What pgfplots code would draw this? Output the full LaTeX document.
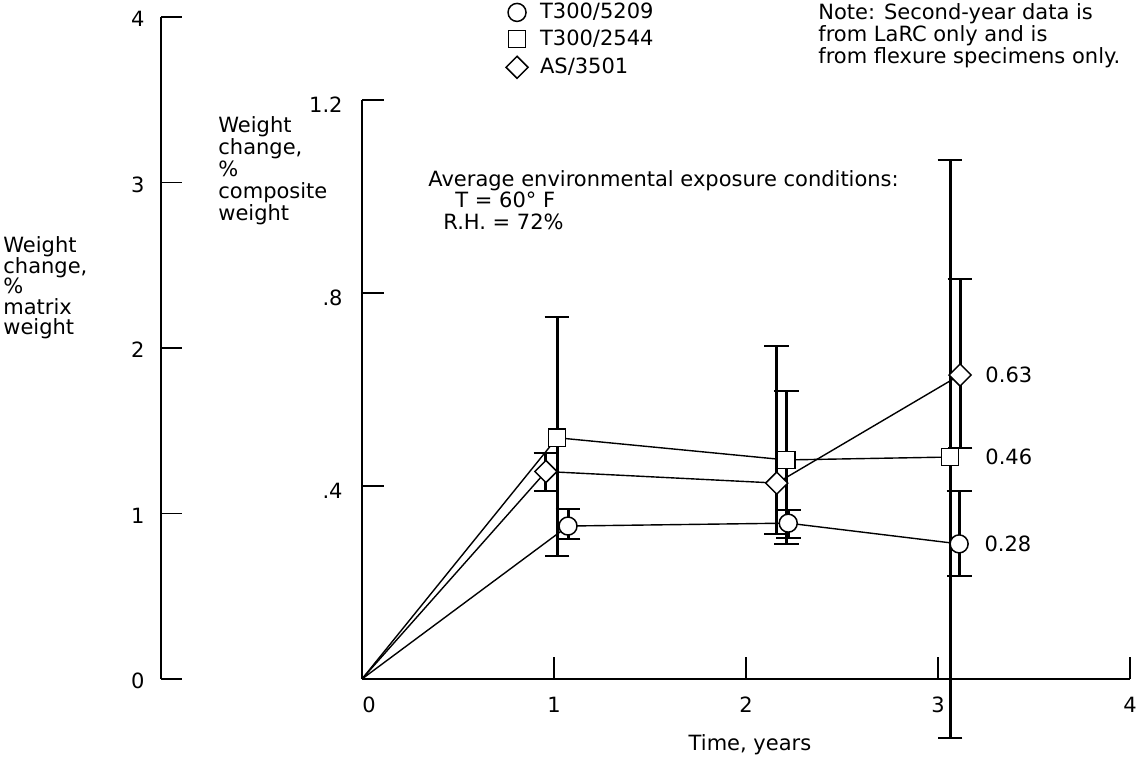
\documentclass[border=0pt]{standalone}
\usepackage{fontspec}
\setmainfont{DejaVu Sans}
\usepackage{pgfplots}
\pgfplotsset{compat=1.18}

\newcommand\lbl{\fontsize{10.5}{12.6}\selectfont}

\begin{document}
\begin{tikzpicture}
\path[use as bounding box] (0,0) rectangle (568pt,379.5pt);

% secondary scale: % matrix weight
\begin{axis}[
  at={(80.5pt,40pt)}, anchor=south west,
  scale only axis, width=20pt, height=331pt,
  xmin=0, xmax=1, ymin=0, ymax=4,
  axis x line=none, axis y line*=left,
  axis line style={line width=1.4pt,-},
  ytick={0,1,2,3,4},
  tick align=inside, major tick length=10.5pt,
  tick style={line width=0.8pt, black},
  /pgf/number format/assume math mode=true,
  yticklabel style={anchor=east, inner sep=0pt, xshift=-8pt, yshift=-1pt, font=\lbl},
]
\end{axis}

% main scale: % composite weight vs time
\begin{axis}[
  at={(181pt,40pt)}, anchor=south west,
  scale only axis, width=384pt, height=289.5pt,
  xmin=0, xmax=4, ymin=0, ymax=1.2,
  axis x line*=bottom, axis y line*=left,
  axis line style={line width=1.3pt,-},
  xtick={0,1,2,3,4}, xticklabels={{\kern7pt 0},1,2,3,4},
  ytick={0.4,0.8,1.2}, yticklabels={.4,.8,1.2},
  tick align=inside, major tick length=11pt,
  tick style={line width=0.8pt, black},
  /pgf/number format/assume math mode=true,
  xticklabel style={anchor=center, yshift=-13pt, font=\lbl},
  yticklabel style={anchor=east, inner sep=0pt, xshift=-9.5pt, yshift=-2.5pt, font=\lbl},
  clip=false,
  legend style={draw=none, fill=none, font=\lbl,
    at={(axis description cs:0.187,1.168)}, anchor=north west,
    inner sep=0pt, row sep=4pt,
    nodes={inner sep=0pt},
    /tikz/every odd column/.append style={column sep=6pt}},
  legend cell align=left,
  legend image code/.code={\draw[#1] plot coordinates {(0pt,0pt)};},
  errb/.style={forget plot, draw=none, mark=none,
    error bars/.cd, y dir=both, y explicit,
    error bar style={draw=black, line width=1.5pt},
    error mark options={draw=black, rotate=90, mark size=6.2pt, line width=1pt}},
  mk/.style={only marks, mark options={fill=white, draw=black, line width=0.75pt, #1}},
  mk/.default={},
]

% connecting lines from the origin
\addplot[black, line width=0.7pt, forget plot] coordinates {(0,0) (1.073,0.317) (2.22,0.323) (3.11,0.28)};
\addplot[black, line width=0.7pt, forget plot] coordinates {(0,0) (1.016,0.50) (2.21,0.454) (3.0625,0.46)};
\addplot[black, line width=0.7pt, forget plot] coordinates {(0,0) (0.958,0.43) (2.16,0.406) (3.115,0.63)};

% scatter bands
\addplot[errb] coordinates {
  (1.073,0.317) += (0,0.035) -= (0,0.027)
  (2.22,0.323)  += (0,0.027) -= (0,0.030)
  (3.11,0.28)   += (0,0.110) -= (0,0.067)};
\addplot[errb] coordinates {
  (1.016,0.50)  += (0,0.250) -= (0,0.245)
  (2.21,0.454)  += (0,0.143) -= (0,0.174)
  (3.0625,0.46) += (0,0.616) -= (0,0.582)};
\addplot[errb] coordinates {
  (0.958,0.43)  += (0,0.038) -= (0,0.040)
  (2.16,0.406)  += (0,0.284) -= (0,0.106)
  (3.115,0.63)  += (0,0.200) -= (0,0.151)};

% mean values
\addplot[mk, mark=*, mark size=4.5pt] coordinates {(1.073,0.317) (2.22,0.323) (3.11,0.28)};
\addlegendentry{T300/5209}
\addplot[mk, mark=square*, mark size=4.3pt] coordinates {(1.016,0.50) (2.21,0.454) (3.0625,0.46)};
\addlegendentry{T300/2544}
\addplot[mk={rotate=45}, mark=square*, mark size=3.9pt] coordinates {(0.958,0.43) (2.16,0.406) (3.115,0.63)};
\addlegendentry{AS/3501}

\node[anchor=west, inner sep=0pt, font=\lbl, xshift=12.5pt] at (axis cs:3.115,0.63) {0.63};
\node[anchor=west, inner sep=0pt, font=\lbl, xshift=17.5pt] at (axis cs:3.0625,0.46) {0.46};
\node[anchor=west, inner sep=0pt, font=\lbl, xshift=12.5pt] at (axis cs:3.11,0.28) {0.28};
\end{axis}

% annotations, placed on a 1136 x 759 grid (origin top left)
\begin{scope}[x=0.5pt, y=-0.5pt, shift={(0pt,379.5pt)},
  every node/.style={inner sep=0pt, font=\lbl}]
  \node[anchor=base west] at (818,20) {Note: Second-year data is};
  \node[anchor=base west] at (818,42) {from LaRC only and is};
  \node[anchor=base west] at (818,64) {from flexure specimens only.};

  \node[anchor=base west] at (428,187) {Average environmental exposure conditions:};
  \node[anchor=base west] at (455,208) {T = 60° F};
  \node[anchor=base west] at (443,230) {R.H. = 72\%};

  \foreach \t [count=\i from 0] in {Weight,{change,},\%,composite,weight}
    \node[anchor=base west] at (218,133+22*\i) {\t};
  \foreach \t [count=\i from 0] in {Weight,{change,},\%,matrix,weight}
    \node[anchor=base west] at (3,253+20.5*\i) {\t};

  \node[anchor=center] at (750,745) {Time, years};
\end{scope}
\end{tikzpicture}
\end{document}
